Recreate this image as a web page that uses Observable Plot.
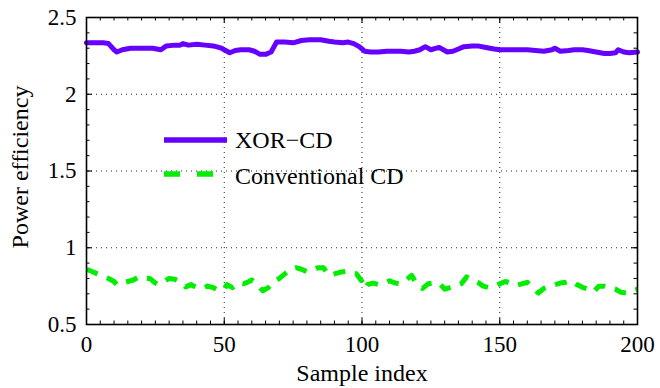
<!DOCTYPE html>
<html><head><meta charset="utf-8">
<script src="https://cdn.jsdelivr.net/npm/d3@7"></script>
<script src="https://cdn.jsdelivr.net/npm/@observablehq/plot@0.6"></script>
<style>
body{margin:0;background:#fff;}
#wrap{position:relative;width:660px;height:388px;}
#legend{position:absolute;left:0;top:0;pointer-events:none;}
</style></head><body><div id="wrap"></div>
<script>
// ---- data ----
const xorX = [0,3,6,8,10,11,13,16,20,24,27,29,32,34,35,37,40,43,46,49,52,54,56,59,61,63,65,67,69,72,75,78,81,85,88,90,93,95,97,99,101,103,106,109,112,114,117,119,121,123,125,127,128,130,131,133,135,137,140,142,145,148,150,153,156,160,163,166,169,170,172,175,177,180,182,185,188,190,192,193,195,197,200];
const xorY = [2.335,2.335,2.335,2.33,2.29,2.275,2.29,2.30,2.30,2.30,2.29,2.315,2.32,2.32,2.33,2.32,2.325,2.32,2.315,2.30,2.27,2.285,2.29,2.29,2.28,2.26,2.26,2.275,2.34,2.34,2.335,2.35,2.355,2.355,2.345,2.34,2.335,2.34,2.33,2.31,2.28,2.275,2.275,2.28,2.28,2.28,2.275,2.28,2.29,2.31,2.29,2.30,2.305,2.285,2.275,2.28,2.295,2.31,2.315,2.315,2.305,2.295,2.29,2.29,2.29,2.29,2.285,2.28,2.29,2.30,2.28,2.285,2.29,2.29,2.285,2.275,2.265,2.265,2.27,2.29,2.275,2.27,2.275];
const convX = [0,2,4,6,8,10,11,13,15,17,19,21,23,25,26,28,30,32,34,36,38,40,42,44,46,48,50,51,53,55,57,59,60,62,64,66,68,70,72,74,76,78,80,82,84,86,88,90,92,94,96,98,100,101,102,104,106,108,110,112,114,116,118,120,122,124,126,128,130,132,134,136,138,140,142,144,146,148,150,152,154,156,158,160,162,164,166,168,170,172,174,176,178,180,182,184,186,188,190,192,194,196,198,200];
const convY = [0.86,0.845,0.83,0.815,0.80,0.78,0.76,0.77,0.78,0.79,0.81,0.80,0.80,0.77,0.76,0.78,0.80,0.795,0.78,0.745,0.76,0.74,0.735,0.75,0.74,0.72,0.73,0.76,0.74,0.77,0.765,0.78,0.79,0.76,0.72,0.74,0.78,0.80,0.83,0.86,0.87,0.86,0.845,0.85,0.87,0.87,0.82,0.83,0.84,0.845,0.83,0.83,0.78,0.735,0.76,0.77,0.76,0.77,0.785,0.77,0.765,0.79,0.82,0.76,0.735,0.765,0.77,0.77,0.73,0.74,0.75,0.765,0.81,0.79,0.775,0.75,0.74,0.75,0.765,0.78,0.77,0.755,0.765,0.775,0.74,0.705,0.735,0.75,0.76,0.77,0.775,0.785,0.76,0.742,0.73,0.712,0.75,0.75,0.74,0.73,0.71,0.705,0.72,0.73];
const seriesNames = ["XOR\u2212CD", "Conventional CD"];
const seriesColors = ["#6600ff", "#00ee00"];
const xTicks = [0, 50, 100, 150, 200];
const yTicks = [0.5, 1, 1.5, 2, 2.5];
const xMinor = d3.range(0, 201, 5);
const yMinor = d3.range(5, 26).map(d => d / 10);
const xLabel = "Sample index";
const yLabel = "Power efficiency";

// ---- layout ----
const W = 660, H = 388, mL = 86, mR = 23, mT = 17, mB = 64;
const pH = H - mT - mB, pW = W - mL - mR;
const FONT = "Liberation Serif";

const xor = xorX.map((x, i) => ({x, y: xorY[i]}));
const conv = convX.map((x, i) => ({x, y: convY[i]}));

const chart = Plot.plot({
  width: W, height: H, marginLeft: mL, marginRight: mR, marginTop: mT, marginBottom: mB,
  style: {fontFamily: FONT, fontSize: "23px", background: "white", color: "black"},
  x: {domain: [0, 200], label: null},
  y: {domain: [0.5, 2.5], label: null},
  marks: [
    Plot.gridX(xTicks.slice(1, -1), {stroke: "#000", strokeOpacity: 0.85, strokeDasharray: "1,4"}),
    Plot.gridY(yTicks.slice(1, -1), {stroke: "#000", strokeOpacity: 0.85, strokeDasharray: "1,4"}),
    Plot.line(conv, {x: "x", y: "y", stroke: seriesColors[1], strokeWidth: 5, strokeDasharray: "12,10", strokeLinecap: "butt"}),
    Plot.line(xor, {x: "x", y: "y", stroke: seriesColors[0], strokeWidth: 5}),
    Plot.frame({stroke: "#000", strokeWidth: 1.6}),
    Plot.tickX(xMinor, {x: d => d, insetTop: pH - 3.5, stroke: "#000"}),
    Plot.tickX(xMinor, {x: d => d, insetBottom: pH - 3.5, stroke: "#000"}),
    Plot.tickX(xTicks, {x: d => d, insetTop: pH - 6, stroke: "#000"}),
    Plot.tickX(xTicks, {x: d => d, insetBottom: pH - 6, stroke: "#000"}),
    Plot.tickY(yMinor, {y: d => d, insetRight: pW - 3.5, stroke: "#000"}),
    Plot.tickY(yMinor, {y: d => d, insetLeft: pW - 3.5, stroke: "#000"}),
    Plot.tickY(yTicks, {y: d => d, insetRight: pW - 6, stroke: "#000"}),
    Plot.tickY(yTicks, {y: d => d, insetLeft: pW - 6, stroke: "#000"}),
    Plot.axisX({ticks: xTicks, tickSize: 0, tickPadding: 11, label: null, tickFormat: d => String(d)}),
    Plot.axisY({ticks: yTicks, tickSize: 0, tickPadding: 10, label: null, tickFormat: d => String(d)}),
    Plot.text([xLabel], {text: d => d, frameAnchor: "bottom", lineAnchor: "middle", textAnchor: "middle", dy: 49, fontSize: 24}),
    Plot.text([yLabel], {text: d => d, frameAnchor: "left", lineAnchor: "middle", textAnchor: "middle", rotate: -90, dx: -66, dy: -4, fontSize: 24})
  ]
});
const wrap = document.getElementById("wrap");
wrap.appendChild(chart);

// ---- legend (overlay) ----
const leg = d3.select(wrap).append("svg").attr("id", "legend")
  .attr("width", W).attr("height", H);
const legRows = [
  {name: seriesNames[0], color: seriesColors[0], dash: null, ly: 140, ty: 148, x2: 227},
  {name: seriesNames[1], color: seriesColors[1], dash: "16,17", ly: 174, ty: 184, x2: 213}
];
legRows.forEach(r => {
  leg.append("line").attr("x1", 164).attr("x2", r.x2).attr("y1", r.ly).attr("y2", r.ly)
    .attr("stroke", r.color).attr("stroke-width", 5.5)
    .attr("stroke-dasharray", r.dash);
  leg.append("text").attr("x", 235).attr("y", r.ty).text(r.name)
    .attr("font-family", FONT).attr("font-size", 24).attr("fill", "#000");
});
</script>
</body></html>
